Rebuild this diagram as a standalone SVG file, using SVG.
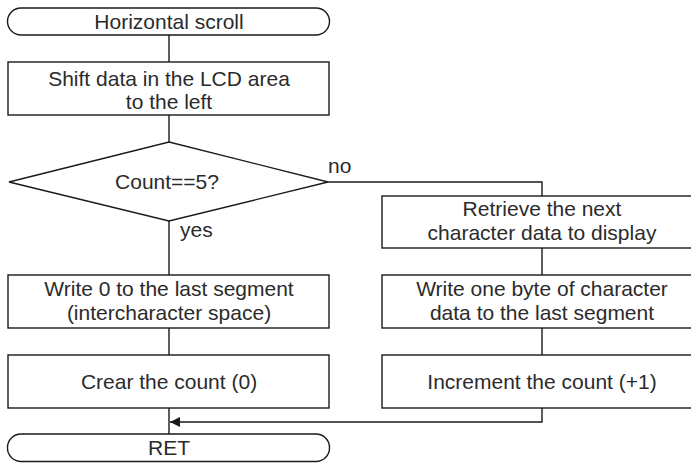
<svg xmlns="http://www.w3.org/2000/svg" width="691" height="463" viewBox="0 0 691 463">
  <defs>
    <marker id="arrow" markerWidth="10" markerHeight="10" refX="10" refY="5" orient="auto" markerUnits="userSpaceOnUse">
      <path d="M0,0 L10,5 L0,10 Z" fill="#1a1a1a"/>
    </marker>
    <style>
      .shape { fill: #ffffff; stroke: #1a1a1a; stroke-width: 1.4; }
      .wire { fill: none; stroke: #1a1a1a; stroke-width: 1.4; }
      text { font-family: "Liberation Sans", Arial, sans-serif; font-size: 21px; fill: #2b2b2b; }
      .c { text-anchor: middle; }
    </style>
  </defs>

  <rect width="691" height="463" fill="#ffffff"/>

  <!-- flow lines -->
  <g id="connectors">
    <line class="wire" x1="169" y1="35" x2="169" y2="62"/>
    <line class="wire" x1="169" y1="115" x2="169" y2="142"/>
    <line class="wire" x1="169" y1="221" x2="169" y2="275"/>
    <line class="wire" x1="169" y1="328" x2="169" y2="355"/>
    <line class="wire" x1="169" y1="408" x2="169" y2="434"/>
    <polyline class="wire" points="328,182 542,182 542,196"/>
    <line class="wire" x1="542" y1="248" x2="542" y2="275"/>
    <line class="wire" x1="542" y1="328" x2="542" y2="355"/>
    <polyline class="wire" points="542,408 542,422 170,422" marker-end="url(#arrow)"/>
    <text x="328" y="173">no</text>
    <text x="180" y="237">yes</text>
  </g>

  <g id="start">
    <rect class="shape" x="7.5" y="8" width="322" height="27" rx="13.5" ry="13.5"/>
    <text class="c" x="169" y="28.5">Horizontal scroll</text>
  </g>

  <g id="shift">
    <rect class="shape" x="8" y="62" width="321" height="53"/>
    <text class="c" x="169" y="85.5">Shift data in the LCD area</text>
    <text class="c" x="169" y="108.5">to the left</text>
  </g>

  <g id="check">
    <polygon class="shape" points="169,142 328,182 169,221 9,182"/>
    <text class="c" x="167" y="189">Count==5?</text>
  </g>

  <g id="retrieve">
    <rect class="shape" x="382" y="196" width="321" height="52"/>
    <text class="c" x="542" y="216">Retrieve the next</text>
    <text class="c" x="542" y="239.5">character data to display</text>
  </g>

  <g id="write-zero">
    <rect class="shape" x="8" y="275" width="321" height="53"/>
    <text class="c" x="169" y="296">Write 0 to the last segment</text>
    <text class="c" x="169" y="320">(intercharacter space)</text>
  </g>

  <g id="write-byte">
    <rect class="shape" x="382" y="275" width="321" height="53"/>
    <text class="c" x="542" y="296">Write one byte of character</text>
    <text class="c" x="542" y="320">data to the last segment</text>
  </g>

  <g id="clear">
    <rect class="shape" x="8" y="355" width="321" height="53"/>
    <text class="c" x="169" y="388.5">Crear the count (0)</text>
  </g>

  <g id="increment">
    <rect class="shape" x="382" y="355" width="321" height="53"/>
    <text class="c" x="542" y="388.5">Increment the count (+1)</text>
  </g>

  <g id="ret">
    <rect class="shape" x="7.5" y="434" width="322" height="27.5" rx="13.5" ry="13.5"/>
    <text class="c" x="169" y="455">RET</text>
  </g>
</svg>
